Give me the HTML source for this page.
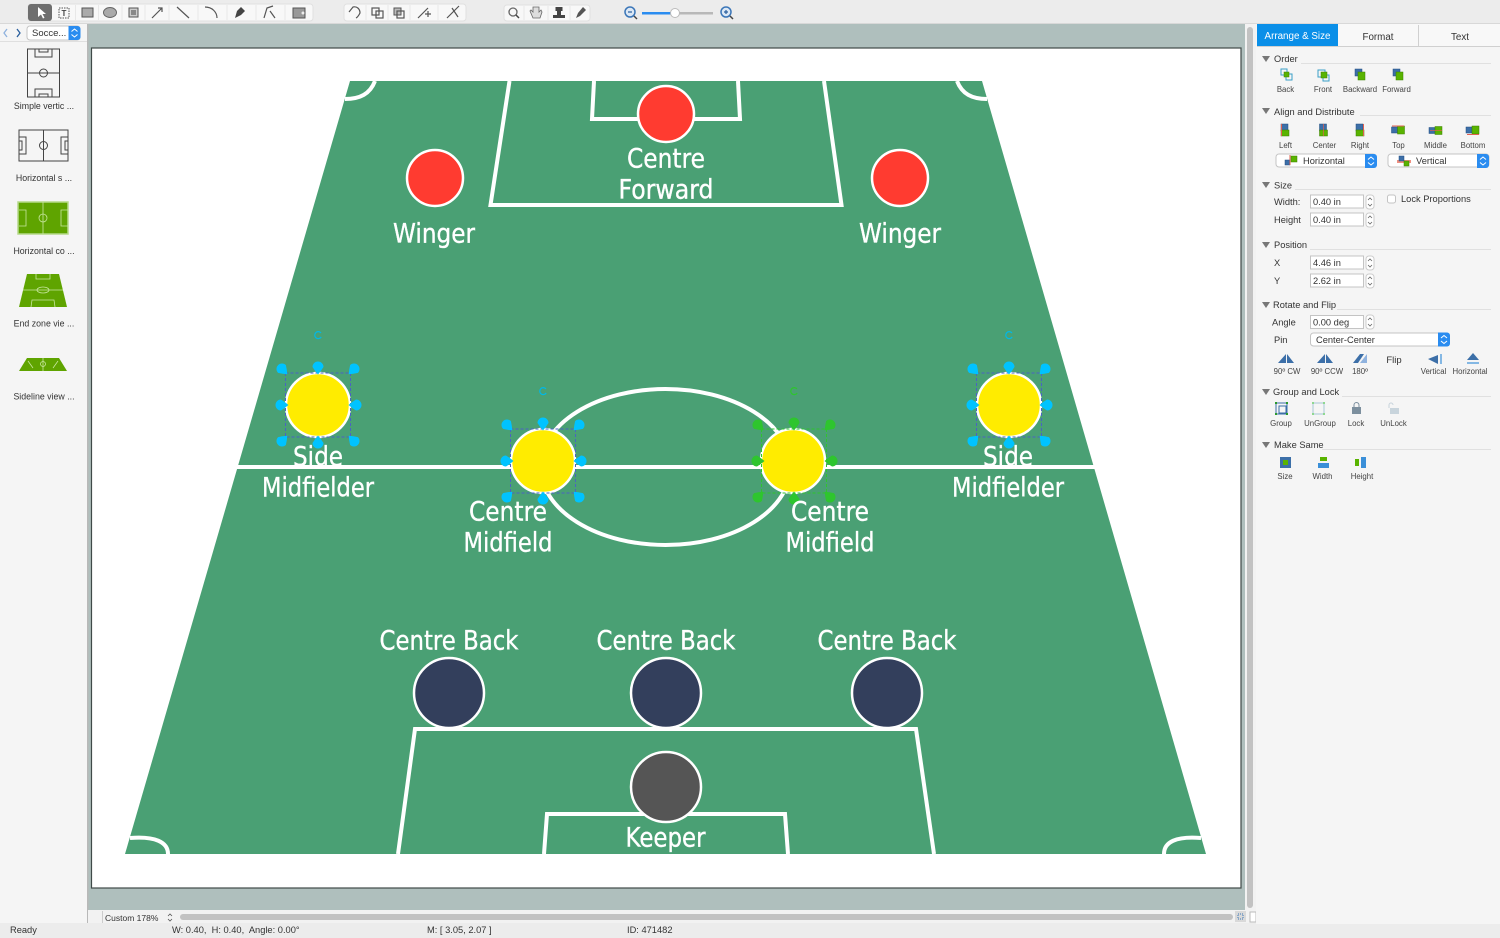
<!DOCTYPE html>
<html><head><meta charset="utf-8"><style>
html,body{margin:0;padding:0;background:#f4f4f4;overflow:hidden}
svg{display:block}
.l{font-family:"DejaVu Sans",sans-serif;font-size:27px;fill:#fff;stroke:#fff;stroke-width:.35;text-anchor:middle}
.s{font-family:"Liberation Sans",sans-serif;font-size:8.800px;fill:#333}
.m{font-family:"Liberation Sans",sans-serif;font-size:9.300px;fill:#333;white-space:pre}
.h{font-family:"Liberation Sans",sans-serif;font-size:9.500px;fill:#333;text-anchor:middle}
.c{font-family:"Liberation Sans",sans-serif;font-size:7.800px;fill:#444;text-anchor:middle}
.f{fill:#fff;stroke:#c4c4c4;stroke-width:1}
.ln{fill:none;stroke:#fff;stroke-width:4}
.sep{stroke:#e0e0e0;stroke-width:1}
.tri{fill:#777}
.b{fill:#3c6fa8;stroke:#234f80;stroke-width:.5}
.g{fill:#59b300;stroke:#3d8000;stroke-width:.5}
.ic{fill:none;stroke:#555;stroke-width:1.200}
</style></head><body>
<svg width="1500" height="938" viewBox="0 0 1500 938" xmlns="http://www.w3.org/2000/svg">
<defs>
<path id="d" d="M-5.500 0A5.500 5.500 0 1 1 5.500 0Q3 4 0 7.500Q-3 4 -5.500 0Z"/>
<g id="hs">
<use href="#d" transform="translate(-36 -36) rotate(-45)"/><use href="#d" transform="translate(36 -36) rotate(45)"/>
<use href="#d" transform="translate(-36 36) rotate(-135)"/><use href="#d" transform="translate(36 36) rotate(135)"/>
<use href="#d" transform="translate(0 -38)"/><use href="#d" transform="translate(0 38) rotate(180)"/>
<use href="#d" transform="translate(-37 0) rotate(-90)"/><use href="#d" transform="translate(38 0) rotate(90)"/>
</g>
<g id="hb" fill="#00c3ff">
<rect x="-32.500" y="-32" width="65" height="64" fill="none" stroke="#4a62c4" stroke-width="1" stroke-dasharray="3 2"/>
<use href="#hs"/>
<path d="M3 -72A3.500 3.500 0 1 0 3.200 -68" fill="none" stroke="#00b8e8" stroke-width="1.200"/>
</g>
<g id="hg" fill="#2ec52e">
<rect x="-32.500" y="-32" width="65" height="64" fill="none" stroke="#2ec52e" stroke-width="1" stroke-dasharray="3 2"/>
<use href="#hs"/>
<path d="M3 -72A3.500 3.500 0 1 0 3.200 -68" fill="none" stroke="#2ec52e" stroke-width="1.200"/>
</g>
<g id="bg"><rect x="-4" y="-6" width="7" height="7" class="b"/><rect x="-4" y="0" width="8" height="6" class="g"/></g>
<g id="bh"><rect x="-7" y="-3" width="6" height="6" class="b"/><rect x="-1" y="-4" width="7" height="8" class="g"/></g>
<path id="t" d="M0 0h8l-4 6z" class="tri"/>
<g id="st"><rect x="0" y="0" width="8" height="14" rx="3" fill="#fff" stroke="#ccc"/><path d="M2 5l2-2 2 2M2 9l2 2 2-2" fill="none" stroke="#666" stroke-width=".8"/></g>
<g id="sb"><path d="M0 0h9a3 3 0 0 1 3 3v8a3 3 0 0 1-3 3h-9z" fill="#2a8cf0"/><path d="M3 5.500l3-2.500 3 2.500M3 8.500l3 2.500 3-2.500" fill="none" stroke="#fff" stroke-width="1"/></g>
</defs>

<rect width="1500" height="938" fill="#f4f4f4"/>
<rect width="1500" height="23" fill="#ececec"/>
<rect y="23" width="1500" height="1" fill="#d8d8d8"/>

<rect x="88" y="24" width="1157" height="886" fill="#afbfbd"/>
<rect x="87" y="24" width="1.500" height="900" fill="#b8b8b8"/>
<rect x="91.500" y="48" width="1149.500" height="840" fill="#fff" stroke="#3f4a48" stroke-width="1.200"/>

<path d="M350 81H982L1206 854H125Z" fill="#4aa074"/>
<rect x="237" y="465" width="858" height="4" fill="#fff"/>
<ellipse cx="665.500" cy="467" rx="125" ry="78" class="ln"/>
<path d="M509.500 81L490.500 205H841.500L824 81" class="ln"/>
<path d="M594 81L592 119H740L738 81" class="ln"/>
<path d="M398 854L415 729H916L934 854" class="ln"/>
<path d="M544 854L547 814H785L788 854" class="ln"/>
<path d="M375 81C370 94 360 99 345 99" class="ln"/>
<path d="M957 81C962 94 972 99 987 99" class="ln"/>
<path d="M130 838C155 836 168 842 168 854" class="ln"/>
<path d="M1201 838C1176 836 1164 842 1164 854" class="ln"/>

<g stroke="#fff" stroke-width="2.500">
<circle cx="666" cy="114" r="28" fill="#ff3b30"/>
<circle cx="435" cy="178" r="28" fill="#ff3b30"/>
<circle cx="900" cy="178" r="28" fill="#ff3b30"/>
<circle cx="318" cy="405" r="32" fill="#ffec00"/>
<circle cx="543" cy="461" r="32" fill="#ffec00"/>
<circle cx="793" cy="461" r="32" fill="#ffec00"/>
<circle cx="1009" cy="405" r="32" fill="#ffec00"/>
<circle cx="449" cy="693" r="35" fill="#333f5c"/>
<circle cx="666" cy="693" r="35" fill="#333f5c"/>
<circle cx="887" cy="693" r="35" fill="#333f5c"/>
<circle cx="666" cy="787" r="35" fill="#555"/>
</g>
<use href="#hb" x="318" y="405"/>
<use href="#hb" x="543" y="461"/>
<use href="#hg" x="794" y="461"/>
<use href="#hb" x="1009" y="405"/>

<g class="l">
<text x="666" y="167.500" textLength="78" lengthAdjust="spacingAndGlyphs">Centre</text>
<text x="666" y="198.500" textLength="95" lengthAdjust="spacingAndGlyphs">Forward</text>
<text x="434" y="242.500" textLength="82" lengthAdjust="spacingAndGlyphs">Winger</text>
<text x="900" y="242.500" textLength="82" lengthAdjust="spacingAndGlyphs">Winger</text>
<text x="318" y="465.500" textLength="50" lengthAdjust="spacingAndGlyphs">Side</text>
<text x="318" y="496.500" textLength="112" lengthAdjust="spacingAndGlyphs">Midfielder</text>
<text x="1008" y="465.500" textLength="50" lengthAdjust="spacingAndGlyphs">Side</text>
<text x="1008" y="496.500" textLength="112" lengthAdjust="spacingAndGlyphs">Midfielder</text>
<text x="508" y="520.500" textLength="78" lengthAdjust="spacingAndGlyphs">Centre</text>
<text x="508" y="551.500" textLength="89" lengthAdjust="spacingAndGlyphs">Midfield</text>
<text x="830" y="520.500" textLength="78" lengthAdjust="spacingAndGlyphs">Centre</text>
<text x="830" y="551.500" textLength="89" lengthAdjust="spacingAndGlyphs">Midfield</text>
<text x="449" y="649.500" textLength="139" lengthAdjust="spacingAndGlyphs">Centre Back</text>
<text x="666" y="649.500" textLength="139" lengthAdjust="spacingAndGlyphs">Centre Back</text>
<text x="887" y="649.500" textLength="139" lengthAdjust="spacingAndGlyphs">Centre Back</text>
<text x="665.500" y="846.500" textLength="80" lengthAdjust="spacingAndGlyphs">Keeper</text>
</g>

<!-- toolbar -->
<rect x="28" y="4" width="285" height="17" rx="3" fill="#f8f8f8" stroke="#e0e0e0"/>
<rect x="28" y="4" width="24" height="17" rx="3" fill="#6e6e6e"/>
<path d="M38 7v10l3-2.500 2 4 1.500-.8-2-3.700h3.500z" fill="#fff"/>
<rect x="59" y="8" width="10" height="10" fill="none" stroke="#555" stroke-dasharray="1.500 1"/><text x="64" y="16" class="c" style="font-size:8px;font-weight:bold">T</text>
<rect x="82" y="8" width="11" height="9" fill="#aaa" stroke="#555"/>
<ellipse cx="110" cy="12.500" rx="6.500" ry="5" fill="#aaa" stroke="#666"/>
<rect x="129" y="8" width="9" height="9" fill="#ccc" stroke="#555"/><rect x="131" y="10" width="5" height="5" fill="#888"/>
<path d="M152 18L162 8M158 8h4v4" class="ic"/>
<path d="M177 7L189 18" class="ic"/>
<path d="M205 7C212 7 217 12 217 18" class="ic"/>
<path d="M235 18l2-7 4-4 4 4-4 4z" fill="#444"/>
<path d="M264 18l3-10 6-2M270 11l5 7" class="ic"/>
<path d="M293 8h12v10h-12z" fill="#999" stroke="#555"/><circle cx="303" cy="13" r="1.500" fill="#eee"/>
<g stroke="#e8e8e8"><path d="M75.500 5v15M98.500 5v15M122 5v15M145 5v15M169 5v15M198 5v15M227 5v15M256 5v15M285 5v15"/></g>
<rect x="344" y="4" width="122" height="17" rx="3" fill="#f8f8f8" stroke="#e0e0e0"/>
<path d="M349 12l4-5c4-1 7 2 7 6-1 2-2 4-4 5" class="ic"/>
<rect x="372" y="8" width="7" height="7" class="ic"/><rect x="376" y="11" width="7" height="7" class="ic"/>
<rect x="394" y="8" width="7" height="7" fill="#bbb" stroke="#555"/><rect x="397" y="11" width="7" height="7" class="ic"/>
<path d="M418 18l10-10M425 14h6M428 11v6" class="ic"/>
<path d="M447 18l12-12M452 8l6 9" class="ic"/>
<g stroke="#e8e8e8"><path d="M366 5v15M388 5v15M410 5v15M438 5v15"/></g>
<rect x="504" y="5" width="86" height="16" rx="3" fill="#f8f8f8" stroke="#e0e0e0"/>
<circle cx="513" cy="12" r="4" fill="none" stroke="#666" stroke-width="1.300"/><path d="M516 15l3 3" stroke="#444" stroke-width="1.500"/>
<path d="M533 18l-3-7 1-1 2 2v-5h6v5l2-2 1 2-2 6z" fill="#ddd" stroke="#666" stroke-width=".8"/>
<path d="M553 18h12v-3h-4v-4h1.500V7h-7v4h1.500v4h-4z" fill="#444"/>
<path d="M576 18l2-5 5-6 3 3-6 6z" fill="#555"/>
<g stroke="#e8e8e8"><path d="M524 6v14M548 6v14M570 6v14"/></g>
<circle cx="630" cy="12" r="5" fill="#dce8f5" stroke="#3b76b8" stroke-width="1.500"/><path d="M628 12h4" stroke="#2a5f9e" stroke-width="1.200"/><path d="M634 16l3 3" stroke="#444" stroke-width="1.500"/>
<rect x="642" y="12" width="33" height="2.500" fill="#2a8cf0"/><rect x="675" y="12" width="38" height="2.500" fill="#b8b8b8"/>
<circle cx="675" cy="13" r="4.500" fill="#fff" stroke="#bbb"/>
<circle cx="726" cy="12" r="5" fill="#dce8f5" stroke="#3b76b8" stroke-width="1.500"/><path d="M724 12h4M726 10v4" stroke="#2a5f9e" stroke-width="1.200"/><path d="M730 16l3 3" stroke="#444" stroke-width="1.500"/>

<!-- left library -->
<rect x="0" y="24" width="87" height="900" fill="#f5f5f5"/>
<rect y="41" width="87" height="1" fill="#dfdfdf"/>
<path d="M7 29l-3 4 3 4" fill="none" stroke="#8fb2de" stroke-width="1.300"/>
<path d="M17 29l3 4-3 4" fill="none" stroke="#2a5f9e" stroke-width="1.300"/>
<rect x="27" y="26" width="53" height="14" rx="3" class="f"/>
<text x="32" y="36" class="m" style="font-size:9.500px">Socce...</text>
<use href="#sb" x="68.500" y="26"/>
<g fill="none" stroke="#444" stroke-width="1">
<rect x="27.500" y="49" width="32" height="48"/><path d="M27.500 73h32"/><circle cx="43.500" cy="73" r="4"/>
<path d="M35 49v8h17v-8M39 49v3h9v-3M35 97v-8h17v8M39 97v-3h9v3"/>
<rect x="19" y="130" width="49" height="31"/><path d="M43.500 130v31"/><circle cx="43.500" cy="145.500" r="4"/>
<path d="M19 137h7v17h-7M68 137h-7v17h7M19 141h3v9h-3M68 141h-3v9h3"/>
</g>
<rect x="18" y="202" width="50" height="32" fill="#5fa400" stroke="#b5d98a" stroke-width="1.500"/>
<g fill="none" stroke="#c8e6a0" stroke-width=".8"><path d="M43 202v32M19 210h7v16h-7M68 210h-7v16h7"/><circle cx="43" cy="218" r="4"/></g>
<path d="M27 274h32l8 33H19z" fill="#5fa400"/>
<g fill="none" stroke="#c8e6a0" stroke-width=".8"><path d="M23 290h40M36 274v5h14v-5M31 307l1-7h22l1 7"/><ellipse cx="43" cy="290" rx="6" ry="3"/></g>
<path d="M27 358h32l8 13H19z" fill="#5fa400"/>
<g fill="none" stroke="#c8e6a0" stroke-width=".8"><path d="M43 358v13M28 361l5 7M58 361l-5 7"/><circle cx="43" cy="364" r="2.500"/></g>
<text x="44" y="109" class="s" style="text-anchor:middle">Simple vertic ...</text>
<text x="44" y="181" class="s" style="text-anchor:middle">Horizontal s ...</text>
<text x="44" y="254" class="s" style="text-anchor:middle">Horizontal co ...</text>
<text x="44" y="326.500" class="s" style="text-anchor:middle">End zone vie ...</text>
<text x="44" y="399.500" class="s" style="text-anchor:middle">Sideline view ...</text>

<!-- scrollbars -->
<rect x="1245" y="24" width="11" height="899" fill="#f2f2f2"/>
<rect x="1247" y="27" width="6" height="881" rx="3" fill="#c2c2c2"/>
<rect x="88" y="910" width="1168" height="13" fill="#f2f2f2"/>
<rect x="102" y="911" width="1" height="12" fill="#ccc"/>
<text x="105" y="921" class="s" style="font-size:8.500px">Custom 178%</text>
<path d="M168 916l2-2 2 2M168 919l2 2 2-2" fill="none" stroke="#555" stroke-width=".8"/>
<rect x="180" y="914" width="1053" height="6" rx="3" fill="#c2c2c2"/>
<rect x="1235" y="911" width="11" height="11" fill="#d9d9d9"/><rect x="1238" y="914" width="5" height="5" fill="none" stroke="#3b76b8" stroke-dasharray="1 1"/>
<rect x="1250" y="912" width="6" height="10" fill="#fff" stroke="#bbb"/>

<!-- status bar -->
<rect y="923" width="1500" height="15" fill="#ececec"/>
<text x="10" y="933" class="m">Ready</text>
<text x="172" y="933" class="m">W: 0.40,  H: 0.40,  Angle: 0.00°</text>
<text x="427" y="933" class="m">M: [ 3.05, 2.07 ]</text>
<text x="627" y="933" class="m">ID: 471482</text>

<!-- right panel -->
<rect x="1256" y="24" width="244" height="900" fill="#f5f5f5"/>
<rect x="1257" y="24" width="243" height="22" fill="#f8f8f8"/>
<rect x="1257" y="46" width="243" height="1" fill="#d0d0d0"/>
<rect x="1257" y="24" width="81" height="22" fill="#0a8fe8"/>
<rect x="1418" y="25" width="1" height="21" fill="#d0d0d0"/>
<text x="1297.500" y="39" class="h" style="font-size:9.800px;fill:#fff">Arrange &amp; Size</text>
<text x="1378" y="40" class="h" style="font-size:9.800px">Format</text>
<text x="1460" y="40" class="h" style="font-size:9.800px">Text</text>

<use href="#t" x="1262" y="56"/><text x="1274" y="62" class="m">Order</text><path d="M1301 63.500H1491" class="sep"/>
<use href="#t" x="1262" y="108"/><text x="1274" y="115" class="m">Align and Distribute</text><path d="M1360 115.500H1491" class="sep"/>
<use href="#t" x="1262" y="182"/><text x="1274" y="188.500" class="m">Size</text><path d="M1295 189.500H1491" class="sep"/>
<use href="#t" x="1262" y="242"/><text x="1274" y="248" class="m">Position</text><path d="M1310 249.500H1491" class="sep"/>
<use href="#t" x="1262" y="302"/><text x="1273" y="308" class="m">Rotate and Flip</text><path d="M1337 309.500H1491" class="sep"/>
<use href="#t" x="1262" y="389"/><text x="1273" y="395" class="m">Group and Lock</text><path d="M1342 396.500H1491" class="sep"/>
<use href="#t" x="1262" y="442"/><text x="1274" y="448" class="m">Make Same</text><path d="M1322 449.500H1491" class="sep"/>

<g fill="none" stroke="#3aa0c8"><rect x="1281" y="69" width="6" height="6"/><rect x="1286" y="74" width="6" height="6"/></g><rect x="1284" y="72" width="5" height="5" class="g"/>
<g fill="none" stroke="#3aa0c8"><rect x="1318" y="70" width="7" height="7"/><rect x="1323" y="75" width="6" height="6"/></g><rect x="1321" y="72" width="6" height="6" class="g"/>
<rect x="1355" y="69" width="7" height="7" class="b"/><rect x="1358" y="72" width="7" height="8" class="g"/>
<rect x="1393" y="69" width="7" height="7" class="b"/><rect x="1396" y="72" width="7" height="8" class="g"/>
<text x="1285.500" y="92" class="c">Back</text><text x="1323" y="92" class="c">Front</text><text x="1360" y="92" class="c">Backward</text><text x="1396.500" y="92" class="c">Forward</text>

<use href="#bg" x="1285" y="130"/><path d="M1281.500 124v12" stroke="#e06050"/>
<use href="#bg" x="1323.500" y="130"/><path d="M1323.500 124v12" stroke="#e06050" stroke-width=".7"/>
<use href="#bg" x="1360" y="130"/><path d="M1363.500 124v12" stroke="#e06050"/>
<use href="#bh" x="1398.500" y="130"/><path d="M1392 126h12" stroke="#e06050"/>
<use href="#bh" x="1436" y="130.500"/><path d="M1430 130.500h12" stroke="#e06050" stroke-width=".7"/>
<use href="#bh" x="1473" y="130"/><path d="M1467 134.500h12" stroke="#e06050"/>
<text x="1285.500" y="148" class="c">Left</text><text x="1324.500" y="148" class="c">Center</text><text x="1360" y="148" class="c">Right</text><text x="1398.500" y="148" class="c">Top</text><text x="1435.500" y="148" class="c">Middle</text><text x="1473" y="148" class="c">Bottom</text>
<rect x="1276" y="154" width="100" height="13" rx="3" class="f"/>
<rect x="1285" y="160" width="5" height="5" class="b"/><rect x="1291" y="156" width="6" height="6" class="g"/><path d="M1290 155v10" stroke="#e06050"/>
<text x="1303" y="164" class="m">Horizontal</text><use href="#sb" x="1365" y="154"/>
<rect x="1388" y="154" width="101" height="13" rx="3" class="f"/>
<rect x="1397" y="160" width="14" height="3" fill="#f09080"/><rect x="1399" y="156" width="5" height="5" class="b"/><rect x="1404" y="161" width="5" height="5" class="g"/>
<text x="1416" y="164" class="m">Vertical</text><use href="#sb" x="1477" y="154"/>

<text x="1274" y="205" class="m">Width:</text>
<rect x="1310.500" y="195" width="53" height="13" class="f"/><text x="1313" y="205" class="m">0.40 in</text><use href="#st" x="1366" y="195"/>
<rect x="1387.500" y="195" width="8" height="8" rx="2" class="f"/><text x="1401" y="202" class="m">Lock Proportions</text>
<text x="1274" y="223" class="m">Height</text>
<rect x="1310.500" y="213" width="53" height="13" class="f"/><text x="1313" y="223" class="m">0.40 in</text><use href="#st" x="1366" y="213"/>

<text x="1274" y="266" class="m">X</text>
<rect x="1310.500" y="256" width="53" height="13" class="f"/><text x="1313" y="266" class="m">4.46 in</text><use href="#st" x="1366" y="256"/>
<text x="1274" y="284" class="m">Y</text>
<rect x="1310.500" y="274" width="53" height="13" class="f"/><text x="1313" y="284" class="m">2.62 in</text><use href="#st" x="1366" y="274"/>

<text x="1272" y="325.500" class="m">Angle</text>
<rect x="1310.500" y="315.500" width="53" height="13" class="f"/><text x="1313" y="325.500" class="m">0.00 deg</text><use href="#st" x="1366" y="315"/>
<text x="1274" y="343" class="m">Pin</text>
<rect x="1310.500" y="333" width="139" height="13" rx="3" class="f"/><text x="1316" y="343" class="m">Center-Center</text><use href="#sb" x="1438" y="332.500"/>
<path d="M1278 363l8-9v9zM1287 363v-9l7 9z" fill="#3c6fa8"/>
<path d="M1317 363l8-9v9zM1326 363v-9l7 9z" fill="#3c6fa8"/>
<path d="M1353 363l7-9h4l-6 9z" fill="#3c6fa8"/><path d="M1360 363l7-9v9z" fill="#8fb2de"/>
<text x="1394" y="363" class="h">Flip</text>
<path d="M1428 359l10-4v9z" fill="#3c6fa8"/><path d="M1441 354v10" stroke="#3a8fd8" stroke-width="1.200"/>
<path d="M1473 353l-6 7h12z" fill="#3c6fa8"/><path d="M1467 363h12" stroke="#3a8fd8" stroke-width="1.200"/>
<text x="1287" y="374" class="c">90º CW</text><text x="1327" y="374" class="c">90º CCW</text><text x="1360" y="374" class="c">180º</text><text x="1433.500" y="374" class="c">Vertical</text><text x="1470" y="374" class="c">Horizontal</text>

<rect x="1276" y="403" width="11" height="11" fill="none" stroke="#3c6fa8"/><rect x="1279" y="406" width="7" height="7" fill="none" stroke="#3c6fa8"/><g fill="#2a9a2a"><rect x="1275" y="402" width="2" height="2"/><rect x="1286" y="402" width="2" height="2"/><rect x="1275" y="413" width="2" height="2"/><rect x="1286" y="413" width="2" height="2"/></g>
<rect x="1313" y="403" width="11" height="11" fill="none" stroke="#a8c8d8"/><g fill="#8fd88f"><rect x="1312" y="402" width="2" height="2"/><rect x="1323" y="402" width="2" height="2"/><rect x="1312" y="413" width="2" height="2"/><rect x="1323" y="413" width="2" height="2"/></g>
<rect x="1352" y="407" width="9" height="7" fill="#7c8f9e"/><path d="M1354 407v-2a2.500 2.500 0 0 1 5 0v2" fill="none" stroke="#7c8f9e"/>
<rect x="1390" y="408" width="9" height="6" fill="#c8d4dc"/><path d="M1389 408v-3a2 2 0 0 1 4 0" fill="none" stroke="#c8d4dc"/>
<text x="1281" y="426" class="c">Group</text><text x="1320" y="426" class="c">UnGroup</text><text x="1356" y="426" class="c">Lock</text><text x="1393.500" y="426" class="c">UnLock</text>

<rect x="1280" y="457" width="11" height="11" fill="#3c6fa8"/><rect x="1283" y="460" width="5" height="5" fill="#59b300"/>
<rect x="1318" y="463" width="11" height="5" fill="#3a8fd8"/><rect x="1320" y="457" width="7" height="4" fill="#59b300"/>
<rect x="1361" y="457" width="5" height="11" fill="#3a8fd8"/><rect x="1355" y="459" width="4" height="7" fill="#59b300"/>
<text x="1285" y="479" class="c">Size</text><text x="1322.500" y="479" class="c">Width</text><text x="1362" y="479" class="c">Height</text>
</svg>
</body></html>
